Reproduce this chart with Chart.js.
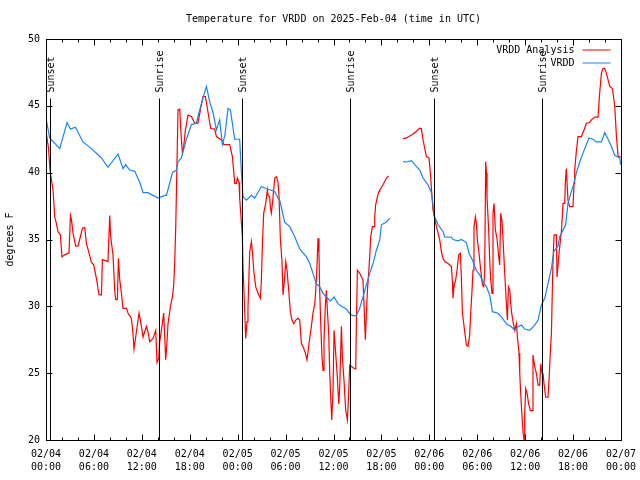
<!DOCTYPE html>
<html>
<head>
<meta charset="utf-8">
<script src="https://cdn.jsdelivr.net/npm/chart.js@4"></script>
<style>
  html, body { margin: 0; padding: 0; background: #fff; }
  #wrap { width: 640px; height: 480px; }
</style>
</head>
<body>
<div id="wrap"><canvas id="tempChart" width="640" height="480"></canvas></div>
<script>
// hours since 02/04 00:00 UTC
const redHours = [0, 0.3, 0.5, 0.88, 1.09, 1.3, 1.5, 1.8, 2.0, 2.34, 2.88, 3.06, 3.18, 3.38, 3.72, 4.01, 4.22, 4.56, 4.85, 5.06,
  5.38, 5.68, 5.97, 6.31, 6.64, 6.94, 7.06, 7.76, 7.98, 8.1, 8.39, 8.6, 8.73, 8.94, 9.07, 9.23, 9.44, 9.64, 10.07, 10.27,
  10.69, 10.89, 11.02, 11.32, 11.65, 11.95, 12.15, 12.57, 12.77, 12.99, 13.4, 13.74, 13.9, 14.11, 14.24, 14.45, 14.74, 14.99, 15.15, 15.28,
  15.58, 15.83, 15.99, 16.12, 16.24, 16.33, 16.53, 16.74, 16.95, 17.08, 17.24, 17.46, 17.78, 18.21, 18.62, 19.03, 19.46, 19.66, 19.96, 20.29,
  20.62, 21.12, 21.34, 21.96, 22.29, 23.0, 23.34, 23.63, 23.84, 23.97, 24.17, 24.25, 24.47, 24.59, 24.67, 25.01, 25.17, 25.29, 25.51, 25.72,
  25.84, 26.01, 26.26, 26.55, 26.85, 26.97, 27.1, 27.26, 27.51, 27.72, 27.8, 28.01, 28.1, 28.22, 28.42, 28.64, 28.85, 29.05, 29.18, 29.35,
  29.55, 29.68, 29.89, 30.02, 30.18, 30.39, 30.6, 30.8, 31.02, 31.27, 31.56, 31.77, 31.98, 32.18, 32.48, 32.68, 32.93, 33.11, 33.23, 33.43,
  33.65, 33.78, 33.93, 34.06, 34.18, 34.27, 34.4, 34.56, 34.69, 34.81, 34.98, 35.11, 35.23, 35.4, 35.53, 35.65, 35.78, 35.94, 36.07, 36.25,
  36.45, 36.66, 36.78, 36.99, 37.11, 37.31, 37.53, 37.74, 37.9, 38.03, 38.44, 38.78, 38.87, 38.99, 39.28, 39.69, 39.82, 39.99, 40.12, 40.25,
  40.41, 40.53, 40.66, 40.87, 41.08, 41.16, 41.28, 41.5, 41.7, 41.79, 42.2, 42.63, 42.91, 43.8,
  44.7, 45.13, 45.54, 45.96, 46.38, 46.8, 47.0, 47.21, 47.42, 47.63, 47.96, 48.13, 48.3, 48.46, 48.67, 48.89, 49.09, 49.3, 49.51, 49.71,
  49.92, 50.34, 50.76, 50.89, 50.96, 51.09, 51.3, 51.47, 51.68, 51.89, 52.02, 52.14, 52.31, 52.43, 52.64, 52.84, 53.05, 53.18, 53.34, 53.47,
  53.59, 53.77, 53.89, 54.02, 54.22, 54.39, 54.65, 54.81, 54.93, 55.06, 55.15, 55.22, 55.43, 55.56, 55.69, 55.85, 55.97, 56.1, 56.27, 56.47,
  56.69, 56.81, 56.94, 57.1, 57.23, 57.44, 57.65, 57.78, 57.9, 58.07, 58.19, 58.31, 58.48, 58.69, 58.9, 59.03, 59.23, 59.32, 59.44, 59.57,
  59.73, 59.86, 59.94, 60.07, 60.23, 60.44, 60.65, 60.86, 60.98, 61.2, 61.41, 61.61, 61.82, 61.95, 62.11, 62.24, 62.36, 62.57, 62.86, 62.99,
  63.16, 63.29, 63.41, 63.49, 63.62, 63.91, 63.99, 64.11, 64.24, 64.54, 64.74, 64.95, 65.03, 65.15, 65.36, 65.57, 65.99, 66.12, 66.2, 66.41,
  66.62, 67.04, 67.45, 67.67, 68.08, 68.29, 68.71, 69.12, 69.33, 69.55, 69.75, 69.96, 70.17, 70.59, 70.93, 71.22, 71.43, 71.64, 71.94];
const redTemps = [43.1, 41.9, 40.2, 38.7, 36.7, 36.2, 35.6, 35.35, 33.7, 33.85, 34.0, 36.8, 36.5, 35.5, 34.5, 34.5, 35.0, 35.85, 35.9, 34.7,
  34.0, 33.3, 33.1, 32.1, 30.85, 30.85, 33.5, 33.35, 36.8, 35.2, 33.85, 31.2, 30.5, 30.5, 33.6, 32.0, 31.0, 29.85, 29.85, 29.5,
  29.1, 28.0, 26.8, 28.1, 29.5, 28.5, 27.7, 28.5, 28.1, 27.35, 27.6, 28.2, 25.8, 26.1, 27.35, 28.2, 29.5, 26.0, 27.35, 28.7,
  30.0, 30.7, 31.6, 33.35, 35.85, 38.5, 44.7, 44.75, 42.5, 41.5, 41.95, 43.2, 44.3, 44.2, 43.7, 43.7, 45.1, 45.7, 45.7, 44.5,
  43.3, 43.26, 42.7, 42.45, 42.1, 42.1, 41.2, 39.2, 39.2, 39.6, 39.3, 38.1, 36.2, 35.2, 32.97, 27.6, 28.85, 29.85, 34.1, 34.84,
  34.1, 32.7, 31.47, 30.97, 30.6, 31.97, 34.7, 36.97, 37.7, 38.7, 38.3, 38.2, 37.35, 36.97, 38.1, 39.6, 39.7, 39.3, 38.2, 35.0,
  33.35, 30.85, 32.2, 33.35, 32.7, 31.2, 29.6, 28.97, 28.7, 28.97, 29.1, 28.97, 27.2, 27.0, 26.5, 26.0, 27.2, 28.0, 28.5, 29.5,
  30.2, 31.2, 32.97, 35.1, 34.0, 31.2, 28.7, 26.2, 25.2, 27.5, 30.0, 31.2, 29.7, 27.98, 24.97, 23.2, 21.5, 23.7, 28.2, 26.7,
  24.97, 22.7, 23.97, 28.5, 26.2, 24.5, 22.2, 21.5, 23.5, 25.6, 25.4, 25.3, 28.97, 32.7, 32.47, 31.97, 30.2, 27.5, 29.5, 31.2,
  32.47, 33.7, 35.2, 35.96, 35.96, 36.7, 37.6, 38.2, 38.6, 38.7, 39.1, 39.6, 39.76, null,
  42.53, 42.6, 42.75, 42.9, 43.1, 43.33, 43.3, 42.45, 41.84, 41.2, 41.1, 39.96, 38.5, 37.2, 36.6, 35.96, 35.5, 34.97, 34.1, 33.6,
  33.35, 33.2, 32.97, 31.85, 30.6, 31.47, 31.97, 32.7, 33.85, 33.97, 31.97, 29.5, 28.7, 28.1, 27.1, 27.0, 27.85, 29.5, 31.1, 32.7,
  35.96, 36.7, 36.2, 34.97, 33.97, 32.97, 31.6, 31.47, 32.47, 40.83, 39.96, 38.2, 35.7, 33.47, 31.97, 30.97, 36.97, 37.7, 35.7, 35.1,
  33.7, 33.1, 36.97, 36.3, 34.97, 32.47, 30.2, 28.97, 31.47, 31.2, 30.2, 29.5, 28.85, 28.2, 28.7, 27.7, 26.5, 25.0, 23.5, 22.1,
  20.6, 20.0, 21.97, 23.85, 23.5, 22.7, 22.2, 22.2, 26.35, 25.47, 24.97, 24.1, 24.1, 25.7, 24.97, 24.97, 24.2, 23.2, 23.2, 24.5,
  26.7, 27.98, 31.47, 33.47, 35.35, 35.35, 32.2, 32.2, 33.97, 35.6, 37.7, 37.7, 39.2, 40.3, 37.97, 37.46, 37.46, 39.2, 40.2, 41.6,
  42.7, 42.7, 43.3, 43.7, 43.75, 43.95, 44.16, 44.16, 45.96, 47.45, 47.8, 47.8, 47.45, 46.45, 46.3, 44.95, 42.7, 41.2, 41.2];

const blueHours = [0, 0.46, 1.72, 2.63, 3.06, 3.68, 4.63, 5.68, 6.94, 7.76, 9.02, 9.64, 9.98, 10.48, 11.11, 11.73, 12.15, 12.77, 14.02, 14.86,
  15.08, 15.83, 16.33, 16.53, 16.95, 17.58, 18.21, 18.83, 19.16, 19.66, 20.09, 20.5, 20.91, 21.34, 21.75, 22.09, 22.4, 22.79, 23.09, 23.63,
  24.25, 24.47, 24.67, 25.09, 25.72, 26.13, 26.97, 27.6, 28.64, 29.05, 29.26, 29.89, 30.52, 31.14, 31.77, 32.61, 33.03, 33.43, 33.85, 34.27,
  34.69, 35.11, 35.61, 36.07, 36.56, 36.99, 37.61, 38.03, 38.44, 38.87, 39.28, 39.69, 40.12, 40.53, 40.95, 41.37, 41.79, 42.0, 42.63, 43.04,
  43.8, 44.7, 45.13, 45.76, 46.17, 46.8, 47.21, 47.83, 48.26, 48.46, 48.67, 49.09, 49.71, 49.92, 50.76, 50.96, 51.59, 52.02, 52.64, 52.97,
  53.39, 53.89, 54.31, 54.72, 55.15, 55.56, 55.9, 56.6, 57.03, 57.65, 58.28, 58.69, 59.1, 59.53, 59.94, 60.57, 61.2, 61.61, 62.03, 62.45,
  62.86, 63.29, 63.58, 64.11, 64.32, 64.74, 65.07, 65.36, 65.79, 65.99, 66.41, 66.83, 67.24, 67.67, 67.99, 68.49, 68.92, 69.55, 69.96, 70.38,
  70.8, 71.22, 71.85, 71.94];
const blueTemps = [44.08, 42.6, 41.8, 43.75, 43.26, 43.4, 42.3, 41.8, 41.1, 40.4, 41.4, 40.3, 40.6, 40.2, 40.1, 39.3, 38.5, 38.5, 38.1, 38.3,
  38.3, 40.0, 40.2, 40.8, 41.1, 42.5, 43.6, 43.7, 44.5, 45.6, 46.45, 45.3, 44.5, 43.2, 43.95, 42.1, 42.8, 44.8, 44.7, 42.5,
  42.5, 40.0, 38.2, 37.95, 38.3, 38.1, 38.96, 38.8, 38.6, 38.1, 37.95, 36.3, 35.96, 35.2, 34.3, 33.7, 33.2, 32.47, 31.7, 31.47,
  30.97, 30.7, 30.4, 30.7, 30.2, 30.0, 29.8, 29.45, 29.3, 29.3, 29.85, 30.7, 31.6, 32.47, 33.2, 34.2, 34.97, 36.1, 36.3, 36.6,
  null, 40.83, 40.8, 40.9, 40.6, 40.2, 39.6, 39.1, 38.5, 37.6, 36.7, 36.1, 35.6, 35.2, 35.17, 35.0, 34.9, 35.0, 34.77, 33.97,
  33.47, 32.7, 32.35, 31.85, 31.47, 30.85, 29.6, 29.48, 29.2, 28.7, 28.47, 28.2, 28.47, 28.6, 28.3, 28.2, 28.6, 28.97, 30.1, 30.6,
  31.7, 32.85, 34.1, 34.5, 35.2, 35.7, 36.1, 37.7, 38.6, 38.96, 39.96, 40.8, 41.46, 42.1, 42.6, 42.5, 42.3, 42.3, 43.0, 42.5,
  41.95, 41.3, 41.1, 40.6];

const eventHours = [0.5, 14.1, 24.5, 38.03, 48.55, 62.1];
const eventLabels = ['Sunset', 'Sunrise', 'Sunset', 'Sunrise', 'Sunset', 'Sunrise'];

const tickDays = ['02/04', '02/05', '02/06', '02/07'];
const tickTimes = ['00:00', '06:00', '12:00', '18:00'];

const seriesNames = ['VRDD Analysis', 'VRDD'];
const seriesColors = ['#ff0000', '#1a84f0'];

const FONT = '10px "DejaVu Sans Mono", "Liberation Mono", monospace';

function toPoints(hours, temps) {
  return hours.map((h, i) => ({ x: h, y: temps[i] }));
}

// gnuplot-like frame: box, inward ticks, sun lines, legend, title
const gnuplotFrame = {
  id: 'gnuplotFrame',
  afterDatasetsDraw(chart) {
    const { ctx, chartArea: a, scales: { x, y } } = chart;
    const L = Math.round(a.left) + 0.5, R = Math.round(a.right) + 0.5;
    const T = Math.round(a.top) + 0.5, B = Math.round(a.bottom) + 0.5;
    ctx.save();
    ctx.strokeStyle = '#000';
    ctx.fillStyle = '#000';
    ctx.lineWidth = 1;
    ctx.font = FONT;

    // sunrise / sunset markers
    eventHours.forEach((h, i) => {
      const px = Math.round(x.getPixelForValue(h)) + 0.5;
      ctx.beginPath();
      ctx.moveTo(px, T + 59);
      ctx.lineTo(px, B);
      ctx.stroke();
      ctx.save();
      ctx.translate(px + 1, T + 53);
      ctx.rotate(-Math.PI / 2);
      ctx.textAlign = 'left';
      ctx.textBaseline = 'middle';
      ctx.fillText(eventLabels[i], 0, 0);
      ctx.restore();
    });

    // border
    ctx.strokeRect(L, T, R - L, B - T);

    // x ticks (every 2 h, long every 6 h), top and bottom
    ctx.beginPath();
    for (let h = 0; h <= 72; h += 2) {
      const px = Math.round(x.getPixelForValue(h)) + 0.5;
      const len = h % 6 === 0 ? 6 : 3;
      ctx.moveTo(px, B); ctx.lineTo(px, B - len);
      ctx.moveTo(px, T); ctx.lineTo(px, T + len);
    }
    // y ticks, left and right
    for (let v = 20; v <= 50; v += 5) {
      const py = Math.round(y.getPixelForValue(v)) + 0.5;
      ctx.moveTo(L, py); ctx.lineTo(L + 6, py);
      ctx.moveTo(R, py); ctx.lineTo(R - 6, py);
    }
    ctx.stroke();

    // legend
    ctx.textAlign = 'right';
    ctx.textBaseline = 'middle';
    seriesNames.forEach((name, i) => {
      const ly = T + 11 + i * 13;
      ctx.fillStyle = '#000';
      ctx.fillText(name, R - 47, ly);
      ctx.strokeStyle = seriesColors[i];
      ctx.beginPath();
      ctx.moveTo(R - 39, ly - 0.5);
      ctx.lineTo(R - 11, ly - 0.5);
      ctx.stroke();
    });

    // title and y label
    ctx.fillStyle = '#000';
    ctx.textAlign = 'center';
    ctx.fillText('Temperature for VRDD on 2025-Feb-04 (time in UTC)', (a.left + a.right) / 2, 19);
    ctx.save();
    ctx.translate(10, (a.top + a.bottom) / 2);
    ctx.rotate(-Math.PI / 2);
    ctx.fillText('degrees F', 0, 0);
    ctx.restore();

    ctx.restore();
  }
};

const tickFont = { family: '"DejaVu Sans Mono", "Liberation Mono", monospace', size: 10, lineHeight: 1.3 };

new Chart(document.getElementById('tempChart').getContext('2d'), {
  type: 'line',
  data: {
    datasets: [
      { label: seriesNames[0], data: toPoints(redHours, redTemps), borderColor: seriesColors[0], borderWidth: 1.2,
        pointRadius: 0, fill: false, tension: 0, spanGaps: false, order: 1 },
      { label: seriesNames[1], data: toPoints(blueHours, blueTemps), borderColor: seriesColors[1], borderWidth: 1.2,
        pointRadius: 0, fill: false, tension: 0, spanGaps: false, order: 0 }
    ]
  },
  options: {
    responsive: false,
    animation: false,
    events: [],
    layout: { padding: { left: 0, right: 19, top: 39, bottom: 0 } },
    plugins: { legend: { display: false }, title: { display: false }, tooltip: { enabled: false } },
    scales: {
      x: {
        type: 'linear', min: 0, max: 72,
        grid: { display: false, drawTicks: false },
        border: { display: false },
        afterFit: s => { s.height = 40; s.paddingLeft = 0; s.paddingRight = 0; },
        ticks: {
          stepSize: 6, autoSkip: false, maxRotation: 0, padding: 8, color: '#000', font: tickFont,
          callback: v => [tickDays[Math.floor(v / 24)], tickTimes[(v % 24) / 6]]
        }
      },
      y: {
        min: 20, max: 50,
        grid: { display: false, drawTicks: false },
        border: { display: false },
        afterFit: s => { s.width = 46; s.paddingTop = 0; s.paddingBottom = 0; },
        ticks: { stepSize: 5, padding: 6, color: '#000', font: tickFont }
      }
    }
  },
  plugins: [gnuplotFrame]
});
</script>
</body>
</html>
